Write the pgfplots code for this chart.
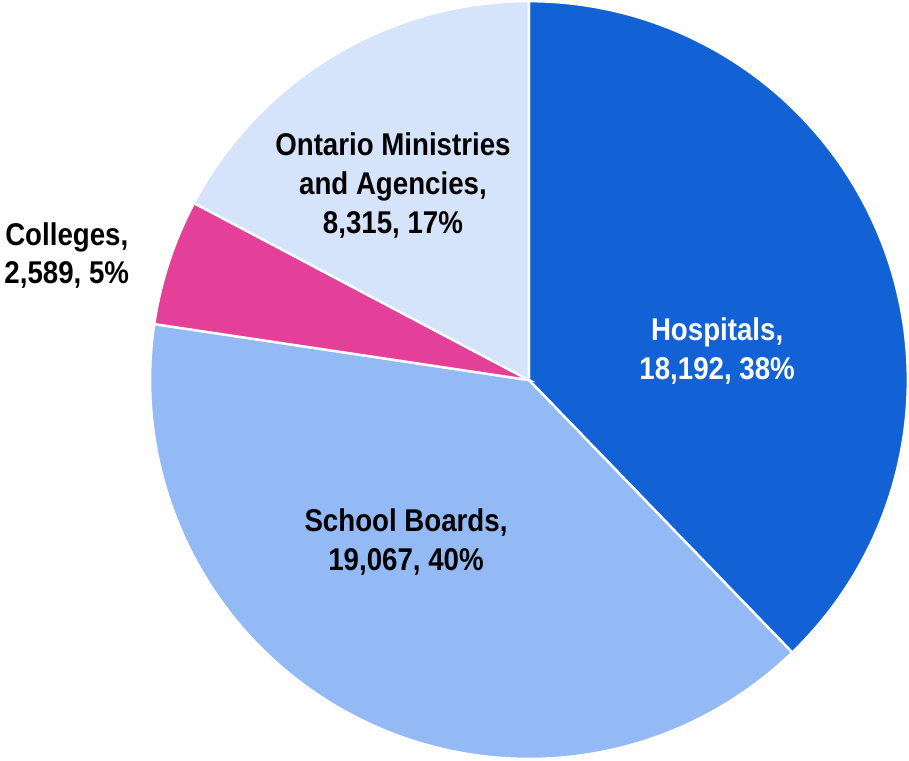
\documentclass[border=0pt]{standalone}
\usepackage{fontspec}
\setmainfont{Liberation Sans}[FakeStretch=0.88]
\usepackage{pgfplots}
\usepackage{pgfplotstable}
\pgfplotsset{compat=1.18}
\definecolor{hosp}{HTML}{1262D6}
\definecolor{school}{HTML}{94BAF5}
\definecolor{coll}{HTML}{E4409A}
\definecolor{ont}{HTML}{D6E4FB}
\pgfplotstableread{
name value
Hospitals 18192
School 19067
Colleges 2589
Ontario 8315
}\piedata
\begin{document}
\begin{tikzpicture}
\pgfplotstablegetelem{0}{value}\of\piedata \edef\vA{\pgfplotsretval}
\pgfplotstablegetelem{1}{value}\of\piedata \edef\vB{\pgfplotsretval}
\pgfplotstablegetelem{2}{value}\of\piedata \edef\vC{\pgfplotsretval}
\pgfplotstablegetelem{3}{value}\of\piedata \edef\vD{\pgfplotsretval}
\edef\tot{\fpeval{\vA+\vB+\vC+\vD}}
\edef\aA{90}
\edef\aB{\fpeval{90-360*\vA/\tot}}
\edef\aC{\fpeval{\aB-360*\vB/\tot}}
\edef\aD{\fpeval{\aC-360*\vC/\tot}}
\edef\aE{\fpeval{\aD-360*\vD/\tot}}
\begin{axis}[width=681.75pt,height=568.5pt,scale only axis,
  xmin=0,xmax=909,ymin=0,ymax=758,hide axis,clip=false]
\addplot[fill=hosp,draw=white,line width=1.8pt,domain=\aB:\aA,samples=120] ({532.5+377.5*cos(x)},{378+377.5*sin(x)}) -- (axis cs:532.5,378) -- cycle;
\addplot[fill=school,draw=white,line width=1.8pt,domain=\aC:\aB,samples=120] ({532.5+377.5*cos(x)},{378+377.5*sin(x)}) -- (axis cs:532.5,378) -- cycle;
\addplot[fill=coll,draw=white,line width=1.8pt,domain=\aD:\aC,samples=30] ({532.5+377.5*cos(x)},{378+377.5*sin(x)}) -- (axis cs:532.5,378) -- cycle;
\addplot[fill=ont,draw=white,line width=1.8pt,domain=\aE:\aD,samples=80] ({532.5+377.5*cos(x)},{378+377.5*sin(x)}) -- (axis cs:532.5,378) -- cycle;
\node[font=\bfseries\fontsize{23.5}{29}\selectfont,align=center,text=white] at (axis cs:720,407) {Hospitals,\\18,192, 38\%};
\node[font=\bfseries\fontsize{23.5}{29}\selectfont,align=center,text=black] at (axis cs:410,217) {School Boards,\\19,067, 40\%};
\node[font=\bfseries\fontsize{23.5}{29}\selectfont,align=center,text=black] at (axis cs:72,502) {Colleges,\\2,589, 5\%};
\node[font=\bfseries\fontsize{23.5}{29}\selectfont,align=center,text=black] at (axis cs:397,572) {Ontario Ministries\\and Agencies,\\8,315, 17\%};
\end{axis}
\end{tikzpicture}
\end{document}
